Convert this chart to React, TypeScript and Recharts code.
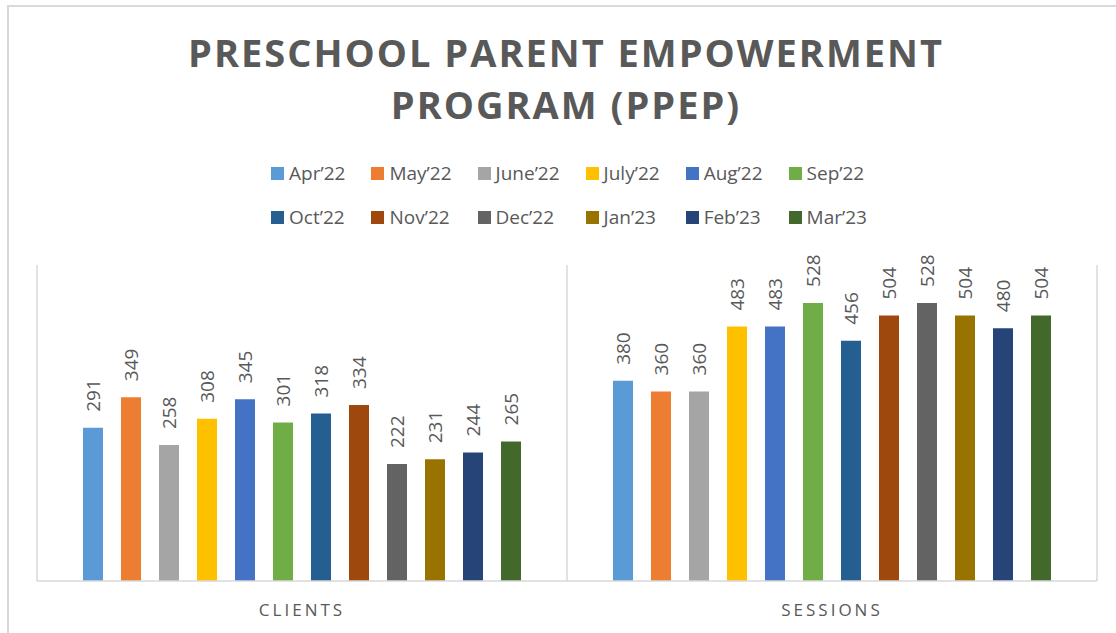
import { Bar, BarChart, CartesianGrid, LabelList, Legend, XAxis, YAxis } from "recharts";

const months = [
  "Apr’22",
  "May’22",
  "June’22",
  "July’22",
  "Aug’22",
  "Sep’22",
  "Oct’22",
  "Nov’22",
  "Dec’22",
  "Jan’23",
  "Feb’23",
  "Mar’23",
];

const monthColors = [
  "#5B9BD5",
  "#ED7D31",
  "#A5A5A5",
  "#FFC000",
  "#4472C4",
  "#70AD47",
  "#255E91",
  "#9E480E",
  "#636363",
  "#997300",
  "#264478",
  "#43682B",
];

const categories = ["CLIENTS", "SESSIONS"];
const clients = [291, 349, 258, 308, 345, 301, 318, 334, 222, 231, 244, 265];
const sessions = [380, 360, 360, 483, 483, 528, 456, 504, 528, 504, 480, 504];

const seriesByCategory = [clients, sessions];

const data = categories.map((category, i) => {
  const row: Record<string, string | number> = { category };
  months.forEach((m, j) => {
    row[m] = seriesByCategory[i][j];
  });
  return row;
});

const FONT = "'Open Sans', 'Noto Sans', sans-serif";
const TEXT = "#595959";
const LINE = "#d9d9d9";

function RotatedLabel(props: any) {
  const { x, y, width, value } = props;
  const cx = Number(x) + Number(width) / 2;
  const top = Number(y) - 16;
  return (
    <text
      transform={`translate(${cx}, ${top}) rotate(-90)`}
      textAnchor="start"
      dominantBaseline="central"
      fill={TEXT}
      fontSize={19}
      fontFamily={FONT}
    >
      {value}
    </text>
  );
}

function CategoryTick(props: any) {
  const { x, y, payload } = props;
  return (
    <text
      x={x}
      y={y + 33}
      textAnchor="middle"
      fill={TEXT}
      fontSize={17}
      fontFamily={FONT}
      letterSpacing={3}
    >
      {payload.value}
    </text>
  );
}

// legend keeps the series order (recharts would sort it by name)
function MonthLegend() {
  return (
    <div
      style={{
        display: "grid",
        gridTemplateColumns: "repeat(6, auto)",
        justifyContent: "center",
        columnGap: 26,
        fontFamily: FONT,
        fontSize: 19,
        color: TEXT,
      }}
    >
      {months.map((m, j) => (
        <div
          key={m}
          style={{ display: "flex", alignItems: "center", height: 44, whiteSpace: "nowrap" }}
        >
          <span
            style={{
              display: "inline-block",
              width: 13,
              height: 13,
              background: monthColors[j],
              marginRight: 5,
            }}
          />
          {m}
        </div>
      ))}
    </div>
  );
}

export default function App() {
  return (
    <div
      style={{
        position: "absolute",
        left: 0,
        top: 0,
        width: 1116,
        height: 633,
        overflow: "hidden",
        background: "#fff",
      }}
    >
      <div
        style={{
          position: "absolute",
          left: 7,
          top: 5,
          width: 1140,
          height: 660,
          border: `2px solid ${LINE}`,
          boxSizing: "border-box",
        }}
      />
      <div
        style={{
          position: "absolute",
          left: 7,
          top: 26,
          width: 1118,
          textAlign: "center",
          fontFamily: FONT,
          fontWeight: 700,
          fontSize: 38,
          lineHeight: "52px",
          letterSpacing: 2,
          color: TEXT,
        }}
      >
        PRESCHOOL PARENT EMPOWERMENT
        <br />
        PROGRAM (PPEP)
      </div>
      <div style={{ position: "absolute", left: 0, top: 0 }}>
        <BarChart
          width={1116}
          height={633}
          data={data}
          barGap={18}
          margin={{ top: 265, right: 19, bottom: 22, left: 37 }}
        >
          <CartesianGrid
            horizontal={false}
            stroke={LINE}
            strokeWidth={1.5}
            verticalCoordinatesGenerator={({ offset }: any) => [
              offset.left,
              offset.left + offset.width / 2,
              offset.left + offset.width,
            ]}
          />
          <XAxis
            dataKey="category"
            axisLine={{ stroke: LINE, strokeWidth: 1.5 }}
            tickLine={false}
            tickSize={0}
            tick={<CategoryTick />}
            interval={0}
          />
          <YAxis hide domain={[0, 600]} />
          <Legend
            layout="horizontal"
            verticalAlign="middle"
            align="center"
            content={<MonthLegend />}
            wrapperStyle={{ top: 151, left: 11, width: 1116 }}
          />
          {months.map((m, j) => (
            <Bar
              key={m}
              dataKey={m}
              fill={monthColors[j]}
              barSize={20}
              isAnimationActive={false}
            >
              <LabelList dataKey={m} content={<RotatedLabel />} />
            </Bar>
          ))}
        </BarChart>
      </div>
    </div>
  );
}
